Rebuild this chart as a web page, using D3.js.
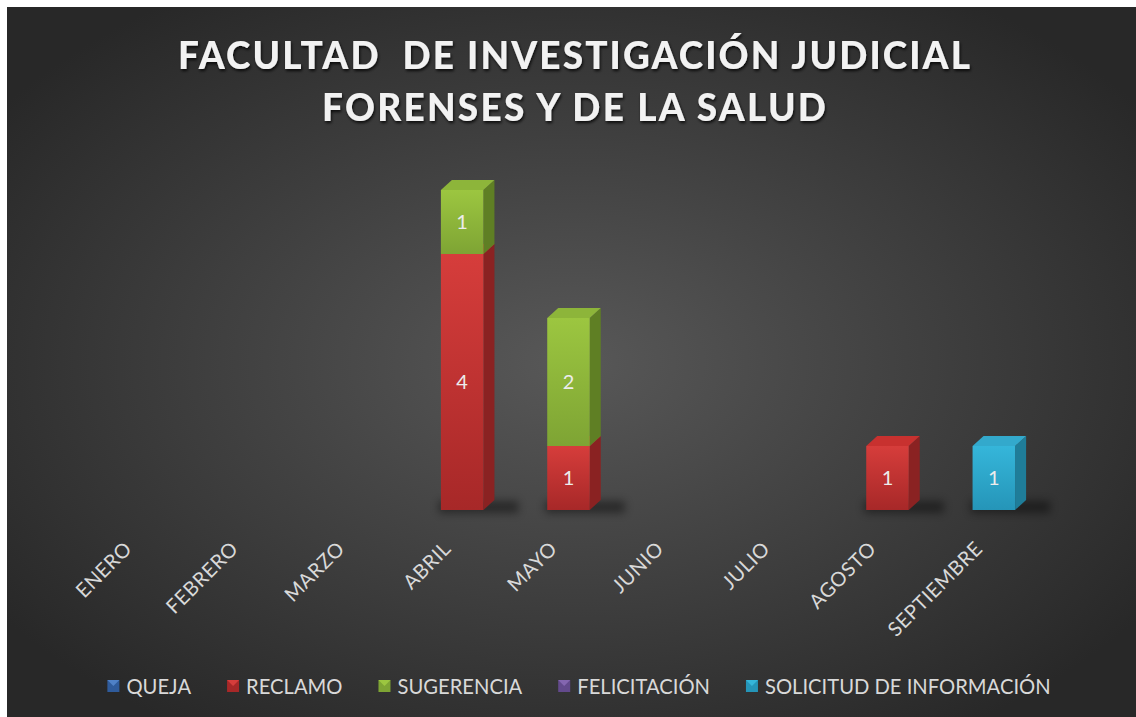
<!DOCTYPE html>
<html>
<head>
<meta charset="utf-8" />
<title>Facultad de investigación judicial</title>
<style>
  html, body { margin: 0; padding: 0; background: #fff; }
  svg { display: block; }
</style>
</head>
<body>
<div id="chart"></div>
<script src="https://cdnjs.cloudflare.com/ajax/libs/d3/7.8.5/d3.min.js"></script>
<script>
// chart values
const months = ["ENERO", "FEBRERO", "MARZO", "ABRIL", "MAYO", "JUNIO", "JULIO", "AGOSTO", "SEPTIEMBRE"]
const seriesNames = ["QUEJA", "RECLAMO", "SUGERENCIA", "FELICITACIÓN", "SOLICITUD DE INFORMACIÓN"]
const queja        = [0, 0, 0, 0, 0, 0, 0, 0, 0]
const reclamo      = [0, 0, 0, 4, 1, 0, 0, 1, 0]
const sugerencia   = [0, 0, 0, 1, 2, 0, 0, 0, 0]
const felicitacion = [0, 0, 0, 0, 0, 0, 0, 0, 0]
const solicitud    = [0, 0, 0, 0, 0, 0, 0, 0, 1]
const titleLines = ["FACULTAD  DE INVESTIGACIÓN JUDICIAL", "FORENSES Y DE LA SALUD"]

const W = 1136, H = 717
const font = "Lato, 'Open Sans', sans-serif"

// front / side / top colours for each series
const colors = [
  { front: ["#4f81c7", "#2f5b9b"], side: "#264a80", top: "#5a8ad0" },
  { front: ["#d63d3b", "#a72828"], side: "#8a2222", top: "#c8312f" },
  { front: ["#9cc640", "#7ea434"], side: "#5f7f24", top: "#8db53a" },
  { front: ["#8466b0", "#634a8c"], side: "#523c77", top: "#7b5fa8" },
  { front: ["#35b6da", "#2595b8"], side: "#1f7d99", top: "#33a9cc" }
]

const table = months.map((m, i) => ({
  month: m,
  QUEJA: queja[i],
  RECLAMO: reclamo[i],
  SUGERENCIA: sugerencia[i],
  "FELICITACIÓN": felicitacion[i],
  "SOLICITUD DE INFORMACIÓN": solicitud[i]
}))
const stacked = d3.stack().keys(seriesNames)(table)

const svg = d3.select("#chart").append("svg")
  .attr("width", W).attr("height", H)

const defs = svg.append("defs")
const bg = defs.append("radialGradient").attr("id", "bg")
  .attr("cx", "50%").attr("cy", "50%").attr("r", "62%")
bg.append("stop").attr("offset", "0%").attr("stop-color", "#585858")
bg.append("stop").attr("offset", "100%").attr("stop-color", "#282828")

colors.forEach((c, i) => {
  const g = defs.append("linearGradient").attr("id", "front" + i)
    .attr("x1", 0).attr("y1", 0).attr("x2", 0).attr("y2", 1)
  g.append("stop").attr("offset", "0%").attr("stop-color", c.front[0])
  g.append("stop").attr("offset", "100%").attr("stop-color", c.front[1])
})

defs.append("filter").attr("id", "blur")
  .attr("x", "-50%").attr("y", "-100%").attr("width", "200%").attr("height", "300%")
  .append("feGaussianBlur").attr("stdDeviation", 4.5)

const ts = defs.append("filter").attr("id", "tshadow")
  .attr("x", "-5%").attr("y", "-20%").attr("width", "110%").attr("height", "150%")
ts.append("feDropShadow").attr("dx", 1).attr("dy", 2).attr("stdDeviation", 1.5)
  .attr("flood-color", "#000").attr("flood-opacity", 0.8)

svg.append("rect").attr("x", 7).attr("y", 7)
  .attr("width", W - 7).attr("height", H - 7)
  .attr("fill", "url(#bg)")

// title
svg.append("g").attr("filter", "url(#tshadow)")
  .selectAll("text").data(titleLines).join("text")
  .attr("x", 574)
  .attr("y", (d, i) => 69 + i * 52)
  .attr("text-anchor", "middle")
  .attr("font-family", font).attr("font-weight", 900)
  .attr("font-size", 37)
  .attr("textLength", (d, i) => i === 0 ? 792 : 504)
  .attr("lengthAdjust", "spacing")
  .attr("xml:space", "preserve")
  .attr("fill", "#f2f2f2")
  .text(d => d)

// scales
const x = d3.scaleBand().domain(months).range([90, 1047])
  .paddingInner(0.6).paddingOuter(0.3)
const y = d3.scaleLinear().domain([0, 6]).range([510, 126])
const dx = 11, dy = 10
const bw = x.bandwidth()

// shadows under the columns
const totals = months.map((m, i) => d3.sum(seriesNames, k => table[i][k]))
svg.append("g").selectAll("rect").data(months.filter((m, i) => totals[i] > 0))
  .join("rect")
  .attr("x", d => x(d) - 2)
  .attr("y", y(0) - 9)
  .attr("width", bw + dx + 26)
  .attr("height", 12)
  .attr("fill", "#000").attr("opacity", 0.42)
  .attr("filter", "url(#blur)")

// 3d stacked columns
const bars = svg.append("g")
stacked.forEach((layer, si) => {
  layer.forEach((seg, mi) => {
    if (seg[1] - seg[0] <= 0) return
    const x0 = x(months[mi]), x1 = x0 + bw
    const yb = y(seg[0]), yt = y(seg[1])
    const g = bars.append("g")
    g.append("polygon")
      .attr("points", [[x1, yb], [x1 + dx, yb - dy], [x1 + dx, yt - dy], [x1, yt]].join(" "))
      .attr("fill", colors[si].side)
    g.append("polygon")
      .attr("points", [[x0, yt], [x0 + dx, yt - dy], [x1 + dx, yt - dy], [x1, yt]].join(" "))
      .attr("fill", colors[si].top)
    g.append("rect")
      .attr("x", x0).attr("y", yt)
      .attr("width", bw).attr("height", yb - yt)
      .attr("fill", "url(#front" + si + ")")
    g.append("text")
      .attr("x", x0 + bw / 2)
      .attr("y", (yb + yt) / 2 + 7)
      .attr("text-anchor", "middle")
      .attr("font-family", font).attr("font-size", 20)
      .attr("fill", "#ececec")
      .text(seg[1] - seg[0])
  })
})

// category labels, rotated
const xAxis = svg.append("g")
  .attr("transform", "translate(0," + 548 + ")")
  .call(d3.axisBottom(x).tickSize(0).tickPadding(0))
xAxis.select(".domain").remove()
xAxis.selectAll("text")
  .attr("font-family", font).attr("font-size", 20)
  .attr("letter-spacing", 0.5)
  .attr("fill", "#d9d9d9")
  .attr("text-anchor", "end")
  .attr("dy", 0)
  .attr("transform", "translate(-10,2) rotate(-45)")

// legend
const legend = svg.append("g")
let lx = 0
seriesNames.forEach((name, i) => {
  const g = legend.append("g")
  const t = g.append("text").attr("x", 19).attr("y", 7)
    .attr("font-family", font).attr("font-size", 20.2)
    .attr("fill", "#d9d9d9").text(name)
  const w = t.node().getComputedTextLength()
  g.append("rect").attr("x", 0).attr("y", -7).attr("width", 12).attr("height", 12)
    .attr("fill", colors[i].front[1])
  g.append("polygon").attr("points", "0,-7 12,-7 6,-1").attr("fill", colors[i].front[0])
  g.attr("transform", "translate(" + lx + ",0)")
  lx += 19 + w + 36
})
const legendW = lx - 36
legend.attr("transform", "translate(" + (579 - legendW / 2) + ",687)")
</script>
</body>
</html>
